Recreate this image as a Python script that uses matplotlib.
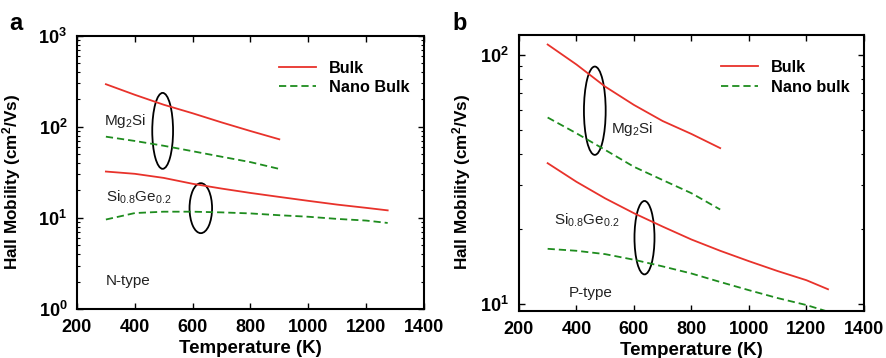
import math

import matplotlib
matplotlib.use("Agg")
import matplotlib.pyplot as plt
from matplotlib.patches import Ellipse
from matplotlib.ticker import FixedLocator, FuncFormatter

plt.rcParams["font.family"] = ["Liberation Sans", "DejaVu Sans"]
plt.rcParams["mathtext.fontset"] = "custom"
plt.rcParams["mathtext.rm"] = "Liberation Sans"
plt.rcParams["mathtext.bf"] = "Liberation Sans:bold"
plt.rcParams["mathtext.it"] = "Liberation Sans:italic"

# ---- data (temperature in K, mobility in cm^2/Vs) ----
t_mg = [300, 400, 500, 600, 700, 800, 900]
t_sige = [300, 400, 500, 600, 700, 800, 900, 1000, 1100, 1200, 1275]

# panel a: n-type
n_mg_bulk = [294, 225, 175, 141, 112, 90, 73]
n_mg_nano = [78, 70, 62, 54, 47, 41, 34.5]
n_sige_bulk = [32.3, 30.5, 27.5, 23.7, 21.0, 18.8, 17.0, 15.4, 14.0, 12.9, 12.1]
n_sige_nano = [9.6, 11.3, 11.7, 11.7, 11.5, 11.2, 10.7, 10.3, 9.75, 9.35, 8.8]

# panel b: p-type
p_mg_bulk = [110, 91.5, 74.6, 63, 54.3, 48.2, 42.3]
p_mg_nano = [56.1, 48.5, 41.6, 35.6, 31.5, 27.9, 24.0]
p_sige_bulk = [36.8, 31.0, 26.6, 23.2, 20.5, 18.2, 16.4, 14.9, 13.6, 12.5, 11.5]
p_sige_nano = [16.7, 16.4, 15.9, 15.1, 14.2, 13.3, 12.3, 11.4, 10.6, 9.94, 9.35]

RED = "#e8322b"
GREEN = "#1e8c1e"
DASH = (4, 2.2)


def style_axes(ax, ylab_xy):
    ax.set_yscale("log")
    ax.set_xlim(200, 1400)
    ax.set_xticks([200, 400, 600, 800, 1000, 1200, 1400])
    ax.tick_params(which="both", direction="in", top=True, right=True)
    ax.tick_params(which="major", length=4, width=1.0, labelsize=13)
    ax.tick_params(axis="x", which="major", pad=7)
    ax.tick_params(axis="y", which="major", pad=7)
    ax.tick_params(which="minor", length=2, width=0.8)
    for lab in ax.get_xticklabels() + ax.get_yticklabels():
        lab.set_fontweight("bold")
    for sp in ax.spines.values():
        sp.set_linewidth(1.5)
    ax.yaxis.set_major_formatter(
        FuncFormatter(lambda v, p: r"$\mathbf{10^{%d}}$" % round(math.log10(v))))
    ax.set_xlabel("Temperature (K)", fontsize=13.5, fontweight="bold", labelpad=3)
    ax.set_ylabel(r"Hall Mobility (cm$^\mathbf{2}$/Vs)", fontsize=12.3, fontweight="bold")
    ax.yaxis.set_label_coords(*ylab_xy)


def draw_panel(ax, mg_bulk, mg_nano, sige_bulk, sige_nano, nano_label):
    ax.plot(t_mg, mg_bulk, color=RED, lw=1.3, label="Bulk")
    ax.plot(t_mg, mg_nano, color=GREEN, lw=1.3, dashes=DASH, label=nano_label)
    ax.plot(t_sige, sige_bulk, color=RED, lw=1.3)
    ax.plot(t_sige, sige_nano, color=GREEN, lw=1.3, dashes=DASH)
    ax.legend(loc="upper right", bbox_to_anchor=(0.987, 0.945), frameon=False,
              handlelength=2.3, handletextpad=0.8, labelspacing=0.28,
              borderaxespad=0.2, prop=dict(size=11.7, weight="bold"))


fig = plt.figure(figsize=(8.87, 3.58), dpi=100)
ax1 = fig.add_axes([0.0868, 0.137, 0.391, 0.763])
ax2 = fig.add_axes([0.585, 0.131, 0.389, 0.771])

# ---- panel a ----
draw_panel(ax1, n_mg_bulk, n_mg_nano, n_sige_bulk, n_sige_nano, "Nano Bulk")
ax1.set_ylim(1, 1000)
style_axes(ax1, (-0.156, 0.465))
ax1.add_patch(Ellipse((0.247, 0.652), 0.06, 0.278, transform=ax1.transAxes,
                      fill=False, ec="black", lw=1.3))
ax1.add_patch(Ellipse((0.357, 0.369), 0.065, 0.183, transform=ax1.transAxes,
                      fill=False, ec="black", lw=1.3))
ax1.text(0.079, 0.689, r"Mg$_2$Si", transform=ax1.transAxes, fontsize=11, va="center", color="#222222")
ax1.text(0.083, 0.41, r"Si$_{0.8}$Ge$_{0.2}$", transform=ax1.transAxes, fontsize=11, va="center", color="#222222")
ax1.text(0.083, 0.103, "N-type", transform=ax1.transAxes, fontsize=11, va="center", color="#222222")

# ---- panel b ----
draw_panel(ax2, p_mg_bulk, p_mg_nano, p_sige_bulk, p_sige_nano, "Nano bulk")
ax2.set_ylim(9.4, 120)
style_axes(ax2, (-0.133, 0.467))
ax2.yaxis.set_major_locator(FixedLocator([10, 100]))
ax2.add_patch(Ellipse((0.220, 0.726), 0.063, 0.32, transform=ax2.transAxes,
                      fill=False, ec="black", lw=1.3))
ax2.add_patch(Ellipse((0.364, 0.266), 0.058, 0.266, transform=ax2.transAxes,
                      fill=False, ec="black", lw=1.3))
ax2.text(0.266, 0.658, r"Mg$_2$Si", transform=ax2.transAxes, fontsize=11, va="center", color="#222222")
ax2.text(0.101, 0.330, r"Si$_{0.8}$Ge$_{0.2}$", transform=ax2.transAxes, fontsize=11, va="center", color="#222222")
ax2.text(0.145, 0.066, "P-type", transform=ax2.transAxes, fontsize=11, va="center", color="#222222")

fig.text(0.010, 0.935, "a", fontsize=17, fontweight="bold", va="center")
fig.text(0.510, 0.935, "b", fontsize=17, fontweight="bold", va="center")

fig.savefig("out.png", dpi=100, facecolor="white")
